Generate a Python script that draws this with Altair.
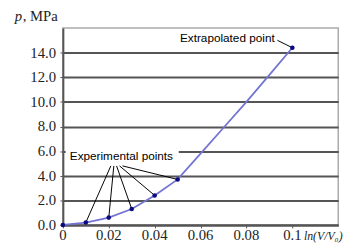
import altair as alt
import pandas as pd

# experimental points
exp_x = [0.0, 0.01, 0.02, 0.03, 0.04, 0.05]
exp_p = [0.0, 0.2, 0.6, 1.3, 2.4, 3.7]
# extrapolated point
ext_x = [0.1]
ext_p = [14.4]
# fitted curve
curve_x = [0.0, 0.01, 0.02, 0.03, 0.04, 0.05, 0.06, 0.07, 0.08, 0.09, 0.1]
curve_p = [0.0, 0.2, 0.6, 1.3, 2.4, 3.7, 5.8, 7.9, 10.0, 12.2, 14.4]

y_ticks = [0, 2, 4, 6, 8, 10, 12, 14]
x_ticks = [0, 0.02, 0.04, 0.06, 0.08, 0.1]
y_tick_labels = ["0.0", "2.0", "4.0", "6.0", "8.0", "10.0", "12.0", "14.0"]
x_tick_labels = ["0", "0.02", "0.04", "0.06", "0.08", "0.1"]

# annotation anchors (label line starts)
exp_lbl_x = [0.0209, 0.0222, 0.0234, 0.0247, 0.026]
exp_lbl_y = [4.8, 4.8, 4.8, 4.8, 4.8]

curve = pd.DataFrame({"x": curve_x, "p": curve_p})
pts = pd.DataFrame({"x": exp_x + ext_x, "p": exp_p + ext_p})
leaders = pd.DataFrame({"x": exp_lbl_x + [0.0935], "p": exp_lbl_y + [15.0],
                        "x2": exp_x[1:] + ext_x, "y2": exp_p[1:] + ext_p})
ylab = pd.DataFrame({"p": y_ticks, "t": y_tick_labels})
xlab = pd.DataFrame({"x": x_ticks, "t": x_tick_labels})

SERIF = "Liberation Serif"

xs = alt.Scale(domain=[0, 0.12], nice=False, zero=False)
ys = alt.Scale(domain=[0, 16], nice=False)

xaxis = alt.Axis(values=x_ticks, title=None, grid=False, labels=False,
                 domainColor="#555", domainWidth=2, tickColor="#555", tickSize=3)
yaxis = alt.Axis(values=y_ticks, title=None, grid=True, labels=False,
                 domainColor="#555", domainWidth=2, tickColor="#555", tickSize=3,
                 gridColor="#555", gridWidth=2)
X = alt.X("x:Q", scale=xs, axis=xaxis)
Y = alt.Y("p:Q", scale=ys, axis=yaxis)

line = alt.Chart(curve).mark_line(color="#7474d2", strokeWidth=1.8).encode(x=X, y=Y)
dots = alt.Chart(pts).mark_circle(color="#0a0a80", size=22, opacity=1).encode(x=X, y=Y)

rules = alt.Chart(leaders).mark_rule(color="black", strokeWidth=1).encode(
    x=X, y=Y, x2="x2:Q", y2="y2:Q")

box = alt.Chart(pd.DataFrame({"x": [0.0012], "x2": [0.0505], "p": [5.0], "y2": [6.25]})).mark_rect(
    color="white").encode(x=X, x2="x2:Q", y=Y, y2="y2:Q")

# tick labels as serif text
ytl = alt.Chart(ylab).mark_text(font=SERIF, fontSize=15, color="#222", align="right",
        baseline="middle", dx=-7, clip=False).encode(x=alt.value(0), y=Y, text="t:N")
xtl = alt.Chart(xlab).mark_text(font=SERIF, fontSize=15, color="#222", align="center",
        baseline="top", clip=False).encode(x=X, y=alt.value(204), text="t:N")

labels = pd.DataFrame({"x": [0.0255, 0.0923], "p": [5.56, 15.15],
                       "t": ["Experimental points", "Extrapolated point"]})
lbl1 = alt.Chart(labels.iloc[[0]]).mark_text(font="Liberation Sans", fontSize=12,
        color="black", align="center").encode(x=X, y=Y, text="t:N")
lbl2 = alt.Chart(labels.iloc[[1]]).mark_text(font="Liberation Sans", fontSize=12,
        color="black", align="right").encode(x=X, y=Y, text="t:N")

ytitle1 = alt.Chart(pd.DataFrame({"t": ["p"]})).mark_text(font=SERIF, fontSize=15,
        fontStyle="italic", align="left", baseline="alphabetic", color="#222").encode(
        x=alt.value(-49), y=alt.value(-7), text="t:N")
ytitle2 = alt.Chart(pd.DataFrame({"t": [", MPa"]})).mark_text(font=SERIF, fontSize=15,
        align="left", baseline="alphabetic", color="#222").encode(
        x=alt.value(-41), y=alt.value(-7), text="t:N")
xtitle = alt.Chart(pd.DataFrame({"t": ["ln(V/V₀)"]})).mark_text(font=SERIF, fontSize=12,
        fontStyle="italic", align="left", baseline="middle", color="#222").encode(
        x=alt.value(246), y=alt.value(212), text="t:N")

chart = alt.layer(box, line, rules, dots, ytl, xtl, lbl1, lbl2, ytitle1, ytitle2, xtitle).properties(
    width=281, height=201,
    background="white",
    autosize=alt.AutoSizeParams(type="none"),
    padding={"left": 56, "top": 18, "right": 12, "bottom": 19},
).configure_view(stroke="#aaa", strokeWidth=1.5)

chart.save("out.html", embed_options={"renderer": "svg", "actions": False})
